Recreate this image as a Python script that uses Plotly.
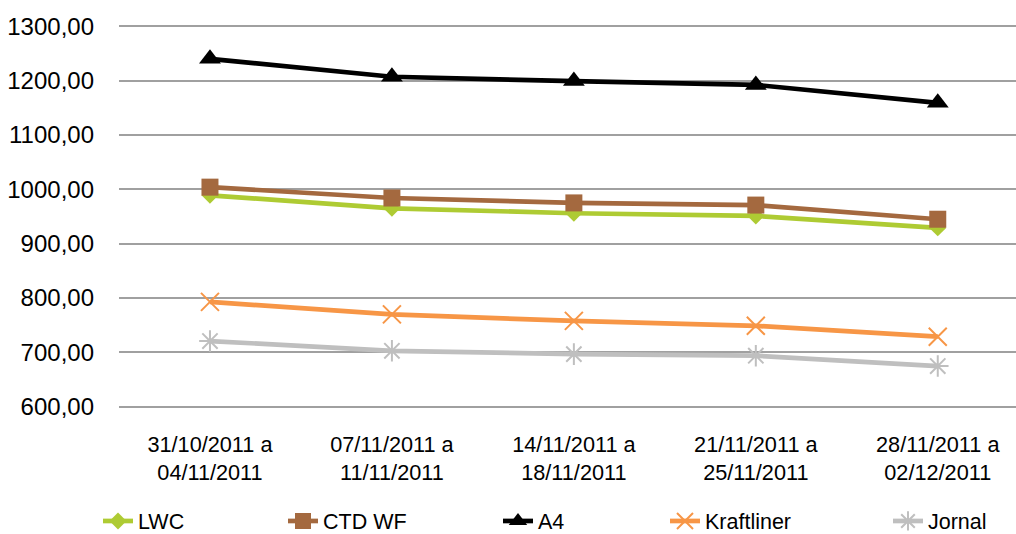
import plotly.graph_objects as go

categories = ["31/10/2011 a<br>04/11/2011", "07/11/2011 a<br>11/11/2011",
              "14/11/2011 a<br>18/11/2011", "21/11/2011 a<br>25/11/2011",
              "28/11/2011 a<br>02/12/2011"]
lwc = [989, 965, 956, 951, 929]
ctd_wf = [1004, 984, 975, 971, 945]
a4 = [1240, 1207, 1199, 1192, 1159]
kraftliner = [793, 770, 758, 749, 729]
jornal = [721, 703, 697, 694, 675]
y_ticks = [600, 700, 800, 900, 1000, 1100, 1200, 1300]
y_tick_labels = ["600,00", "700,00", "800,00", "900,00", "1000,00", "1100,00", "1200,00", "1300,00"]

series = [
    ("LWC", lwc, "#AECB33", dict(symbol="diamond", size=13, color="#AECB33")),
    ("CTD WF", ctd_wf, "#A4693F", dict(symbol="square", size=17, color="#A4693F")),
    ("A4", a4, "#000000", dict(symbol="triangle-up", size=19, color="#000000")),
    ("Kraftliner", kraftliner, "#F79646",
     dict(symbol="x-thin-open", size=18, color="#F79646", line=dict(color="#F79646", width=2))),
    ("Jornal", jornal, "#BFBFBF",
     dict(symbol="asterisk-open", size=18, color="#BFBFBF", line=dict(color="#BFBFBF", width=2))),
]

legend_text_x = [140, 325, 540, 707, 930]

W, H = 1016, 534
ML, MR, MT, MB = 119, 0, 24, 125
PW, PH = W - ML - MR, H - MT - MB
FONT = "Liberation Sans, Arial, sans-serif"

fig = go.Figure()
x = list(range(len(categories)))
for i, (name, vals, col, mk) in enumerate(series):
    lg = "legend" if i == 0 else f"legend{i+1}"
    fig.add_trace(go.Scatter(x=x, y=vals, name=name, mode="lines+markers",
                             line=dict(color=col, width=4.7), marker=mk,
                             legend=lg, showlegend=True))

layout_legends = {}
for i, tx in enumerate(legend_text_x):
    key = "legend" if i == 0 else f"legend{i+1}"
    layout_legends[key] = dict(
        x=(tx - 42 - ML) / PW, xref="paper", xanchor="left",
        y=-(521 - (H - MB)) / PH, yref="paper", yanchor="middle",
        orientation="h", bgcolor="rgba(0,0,0,0)", visible=True,
        font=dict(family=FONT, size=21.5, color="#000000"),
    )

fig.update_layout(
    width=W, height=H, showlegend=True,
    margin=dict(l=ML, r=MR, t=MT, b=MB, autoexpand=False),
    plot_bgcolor="white", paper_bgcolor="white",
    font=dict(family=FONT, size=21, color="#000000"),
    xaxis=dict(tickmode="array", tickvals=x, ticktext=categories,
               range=[-0.5, 4.43], showgrid=False, zeroline=False, showline=False,
               ticks="", tickfont=dict(size=21.7), ticklabelstandoff=20),
    yaxis=dict(tickmode="array", tickvals=y_ticks, ticktext=y_tick_labels,
               range=[596, 1304], showgrid=True, gridcolor="#A0A0A0", gridwidth=2,
               zeroline=False, showline=False, ticks="", tickfont=dict(size=24),
               ticklabelstandoff=24),
    **layout_legends,
)

fig.write_html("out.html", config={"displayModeBar": False},
               post_script="document.body.style.margin='0';document.body.style.overflow='hidden';")
